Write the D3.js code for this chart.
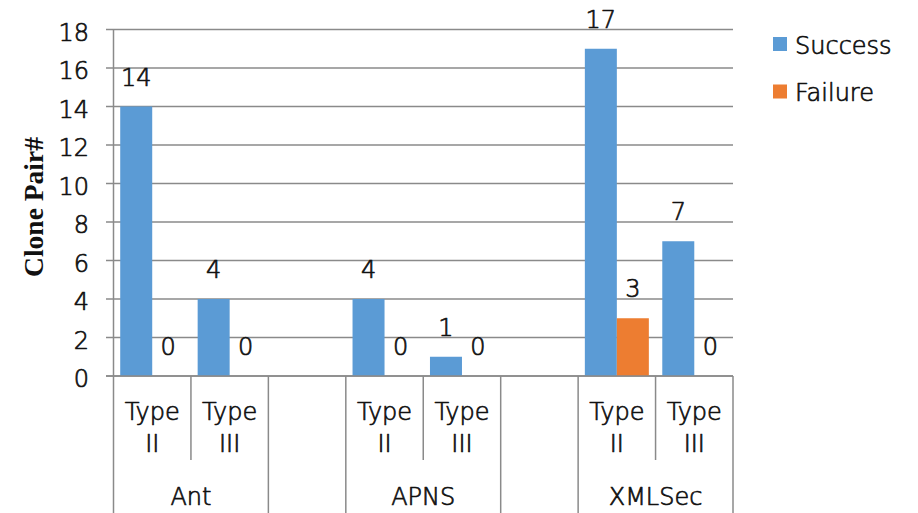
<!DOCTYPE html>
<html>
<head>
<meta charset="utf-8">
<script src="https://cdn.jsdelivr.net/npm/d3@7"></script>
<style>
  html, body { margin: 0; padding: 0; background: #fff; }
  svg { display: block; }
  text { font-family: "DejaVu Sans", sans-serif; font-weight: 200; fill: #111; stroke: #111; stroke-width: 0.7px; stroke-linejoin: round; }
  text.title { stroke: none; }
</style>
</head>
<body>
<svg id="chart" width="918" height="513"></svg>
<script>
// Clone pair counts per project and clone type
const projects = ["Ant", "APNS", "XMLSec"];
const cloneTypes = ["Type II", "Type III"];
const seriesNames = ["Success", "Failure"];
const successValues = [14, 4, 4, 1, 17, 7];
const failureValues = [0, 0, 0, 0, 3, 0];
const yTickValues = [0, 2, 4, 6, 8, 10, 12, 14, 16, 18];
const seriesColors = ["#5B9BD5", "#ED7D31"];

// Build the slot list: each project's clone types, with an empty spacer slot between projects
const slots = [];
projects.forEach((p, pi) => {
  cloneTypes.forEach((t, ti) => {
    const k = pi * cloneTypes.length + ti;
    slots.push({ id: p + "|" + t, project: p, type: t, values: [successValues[k], failureValues[k]] });
  });
  if (pi < projects.length - 1) slots.push({ id: "spacer" + pi, project: null, type: null, values: null });
});

const svg = d3.select("#chart");
const plot = { left: 113.5, right: 733, top: 29.5, bottom: 376 };

const x = d3.scaleBand().domain(slots.map(d => d.id)).range([plot.left, plot.right]).padding(0);
const xs = d3.scaleBand().domain(seriesNames).range([0, x.bandwidth()]).paddingInner(0).paddingOuter(0.21);
const y = d3.scaleLinear().domain([0, 18]).range([plot.bottom, plot.top]);

const gridColor = "#8a8a8a";

// Horizontal gridlines with the small tick stubs on the left
svg.append("g").selectAll("line").data(yTickValues).join("line")
  .attr("x1", plot.left - 7.5).attr("x2", plot.right)
  .attr("y1", d => y(d)).attr("y2", d => y(d))
  .attr("stroke", gridColor).attr("stroke-width", 1.5);

// Value axis line
svg.append("line")
  .attr("x1", plot.left).attr("x2", plot.left)
  .attr("y1", plot.top).attr("y2", plot.bottom)
  .attr("stroke", gridColor).attr("stroke-width", 1.5);

// Value axis tick labels
svg.append("g").selectAll("text").data(yTickValues).join("text")
  .attr("x", 89).attr("y", d => y(d) + 11)
  .attr("text-anchor", "end").attr("font-size", 24)
  .text(d => d);

// Axis title
svg.append("text").attr("class", "title")
  .attr("transform", "translate(43,207) rotate(-90)")
  .attr("text-anchor", "middle")
  .style("font-family", "'Liberation Serif', 'Times New Roman', serif")
  .style("font-weight", "bold").attr("font-size", 27.5)
  .text("Clone Pair#");

// Bars
const barData = [];
slots.forEach(s => {
  if (!s.values) return;
  s.values.forEach((v, i) => barData.push({ slot: s.id, series: seriesNames[i], value: v, color: seriesColors[i] }));
});

svg.append("g").selectAll("rect").data(barData.filter(d => d.value > 0)).join("rect")
  .attr("x", d => x(d.slot) + xs(d.series))
  .attr("width", xs.bandwidth())
  .attr("y", d => y(d.value))
  .attr("height", d => y(0) - y(d.value))
  .attr("fill", d => d.color);

// Value labels
svg.append("g").selectAll("text").data(barData).join("text")
  .attr("x", d => x(d.slot) + xs(d.series) + xs.bandwidth() / 2)
  .attr("y", d => y(d.value) - 21)
  .attr("text-anchor", "middle").attr("font-size", 24)
  .text(d => d.value);

// Category axis baseline
svg.append("line")
  .attr("x1", plot.left - 7.5).attr("x2", plot.right)
  .attr("y1", y(0)).attr("y2", y(0))
  .attr("stroke", gridColor).attr("stroke-width", 1.5);

// Category dividers: full-height between projects/spacers, short between clone types
const boundaries = [];
slots.forEach((s, i) => {
  const prev = slots[i - 1];
  const full = !prev || prev.project !== s.project || s.project === null;
  boundaries.push({ pos: x(s.id), full });
});
boundaries.push({ pos: plot.right, full: true });

svg.append("g").selectAll("line").data(boundaries).join("line")
  .attr("x1", d => d.pos).attr("x2", d => d.pos)
  .attr("y1", y(0)).attr("y2", d => d.full ? 513 : 460)
  .attr("stroke", gridColor).attr("stroke-width", 1.5);

// Clone type labels (two lines each)
const typeLabels = svg.append("g").selectAll("text").data(slots.filter(s => s.type)).join("text")
  .attr("text-anchor", "middle").attr("font-size", 24);
typeLabels.append("tspan")
  .attr("x", d => x(d.id) + x.bandwidth() / 2).attr("y", 420)
  .text(d => d.type.split(" ")[0]);
typeLabels.append("tspan")
  .attr("x", d => x(d.id) + x.bandwidth() / 2).attr("y", 452)
  .text(d => d.type.split(" ")[1]);

// Project labels centred under their clone types
svg.append("g").selectAll("text").data(projects).join("text")
  .attr("x", p => {
    const ids = slots.filter(s => s.project === p).map(s => s.id);
    return (x(ids[0]) + x(ids[ids.length - 1]) + x.bandwidth()) / 2;
  })
  .attr("y", 505)
  .attr("text-anchor", "middle").attr("font-size", 24)
  .text(p => p);

// Legend
const legend = svg.append("g").selectAll("g").data(seriesNames).join("g")
  .attr("transform", (d, i) => `translate(773,${37 + i * 47.5})`);
legend.append("rect").attr("width", 14).attr("height", 14)
  .attr("fill", (d, i) => seriesColors[i]);
legend.append("text").attr("x", 22).attr("y", 16.5)
  .attr("font-size", 24).text(d => d);
</script>
</body>
</html>
